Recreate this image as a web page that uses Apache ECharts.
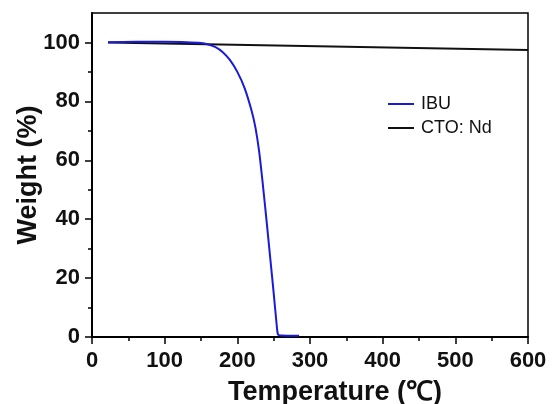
<!DOCTYPE html>
<html><head><meta charset="utf-8">
<script src="https://cdn.jsdelivr.net/npm/echarts@6/dist/echarts.min.js"></script>
<style>html,body{margin:0;padding:0;background:#fff}#c{width:552px;height:404px}</style>
</head><body><div id="c"></div>
<script>
var xTicks = [0, 100, 200, 300, 400, 500, 600];
var yTicks = [0, 20, 40, 60, 80, 100];
var yMinorTicks = [10, 30, 50, 70, 90];
var ibuT = [22, 60, 100, 130, 150, 160, 170, 180, 190, 200, 210, 220, 225, 230, 235, 240, 245, 250, 254, 256, 260, 285];
var ibuW = [100.1, 100.2, 100.2, 100.1, 99.8, 99.3, 98.4, 96.7, 94, 90, 84.5, 76.5, 71, 63, 52, 40, 27.5, 15, 4.5, 0.8, 0.5, 0.4];
var ctoT = [22, 600];
var ctoW = [100, 97.4];

function pairs(a, b) { return a.map(function (v, i) { return [v, b[i]]; }); }
var font = 'Liberation Sans, Arial, sans-serif';
var chart = echarts.init(document.getElementById('c'));
chart.setOption({
  animation: false,
  grid: { left: 92, right: 24, top: 13, bottom: 67, outerBoundsMode: 'none', containLabel: false,
    show: true, borderColor: '#000', borderWidth: 1.5 },
  legend: {
    orient: 'vertical', left: 388, top: 95, padding: 0, itemWidth: 26, itemHeight: 2, itemGap: 6, icon: 'rect',
    textStyle: { fontFamily: font, fontSize: 18, color: '#111', lineHeight: 18, padding: [0, 0, 0, 2] },
    data: ['IBU', 'CTO: Nd']
  },
  xAxis: {
    type: 'value', min: 0, max: 600, interval: 100,
    name: 'Temperature (℃)', nameLocation: 'middle', nameGap: 42, nameMoveOverlap: false,
    nameTextStyle: { fontFamily: font, fontSize: 27, fontWeight: 'bold', color: '#111', padding: [0, 0, 0, 50] },
    axisLine: { show: true, lineStyle: { color: '#000', width: 2 } },
    axisTick: { show: true, inside: false, length: 7, lineStyle: { color: '#000', width: 1.5 }, customValues: xTicks },
    minorTick: { show: true, splitNumber: 2, length: 4, lineStyle: { color: '#000', width: 1.5 } },
    axisLabel: { fontFamily: font, fontSize: 22, fontWeight: 'bold', color: '#111', margin: 13, customValues: xTicks },
    splitLine: { show: false }
  },
  yAxis: [{
    type: 'value', min: 0, max: 110, interval: 20,
    name: 'Weight (%)', nameLocation: 'middle', nameGap: 50, nameMoveOverlap: false,
    nameTextStyle: { fontFamily: font, fontSize: 27, fontWeight: 'bold', color: '#111' },
    axisLine: { show: true, lineStyle: { color: '#000', width: 2 } },
    axisTick: { show: true, inside: false, length: 7, lineStyle: { color: '#000', width: 1.5 }, customValues: yTicks },
    axisLabel: { fontFamily: font, fontSize: 22, fontWeight: 'bold', color: '#111', margin: 12, customValues: yTicks },
    splitLine: { show: false }
  }, {
    type: 'value', min: 0, max: 110, position: 'left',
    axisLine: { show: false },
    axisTick: { show: true, inside: false, length: 4, lineStyle: { color: '#000', width: 1.5 }, customValues: yMinorTicks },
    axisLabel: { show: false },
    splitLine: { show: false }
  }],
  series: [
    { name: 'IBU', type: 'line', data: pairs(ibuT, ibuW), showSymbol: false, smooth: 0.25,
      lineStyle: { color: '#1a1ad8', width: 2 }, itemStyle: { color: '#1a1ad8' }, z: 3 },
    { name: 'CTO: Nd', type: 'line', data: pairs(ctoT, ctoW), showSymbol: false,
      lineStyle: { color: '#111', width: 2 }, itemStyle: { color: '#111' }, z: 2 }
  ]
});
</script></body></html>
